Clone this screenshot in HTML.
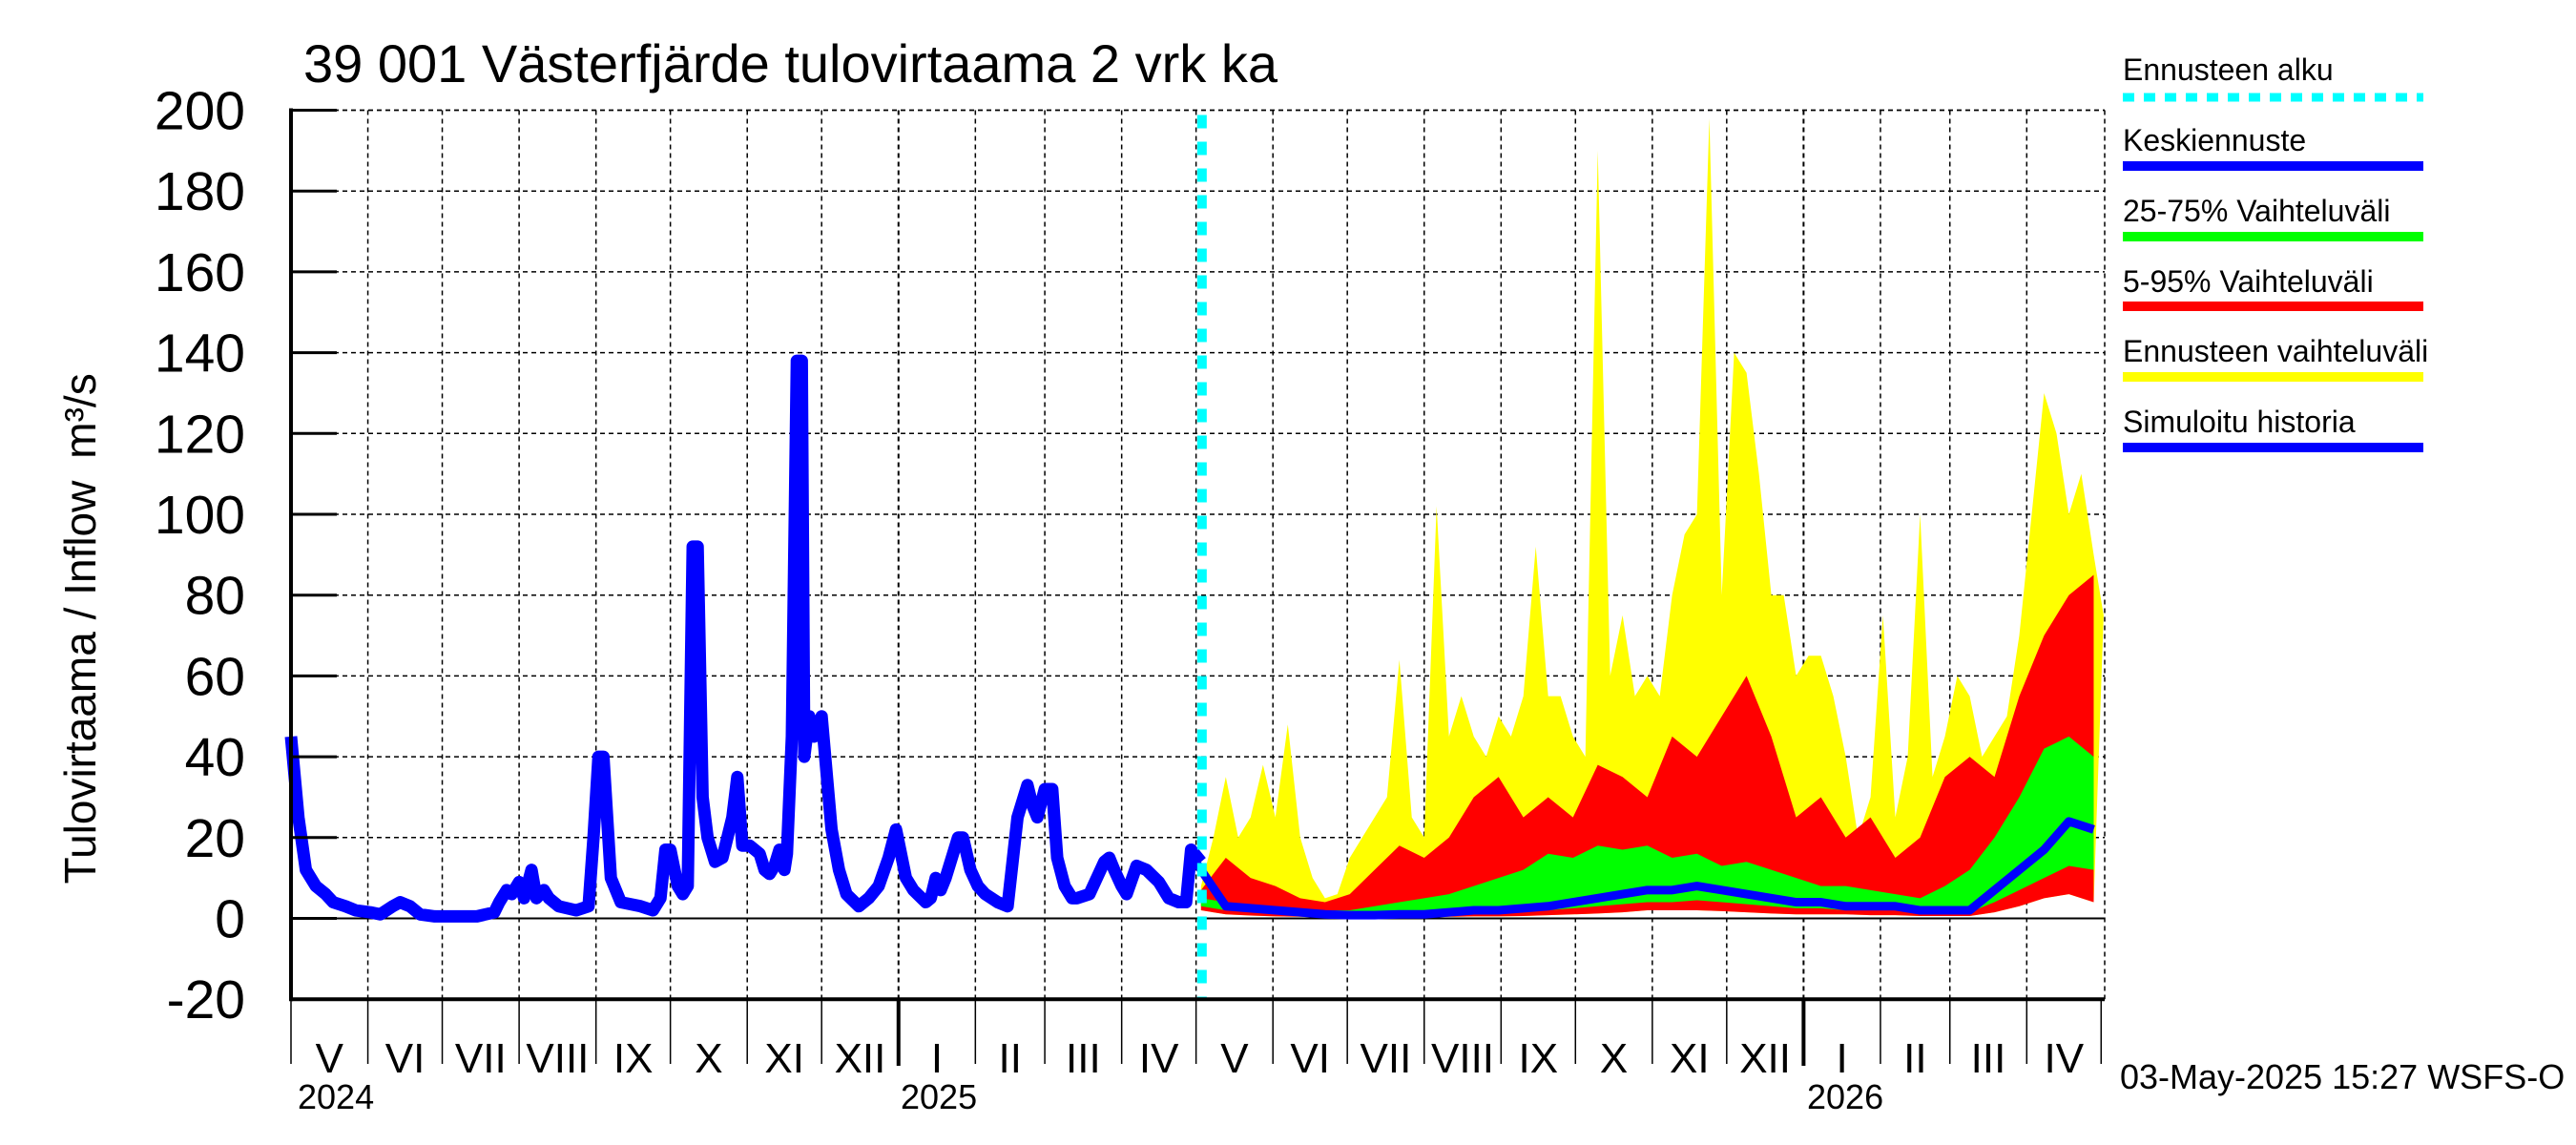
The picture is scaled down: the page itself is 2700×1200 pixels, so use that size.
<!DOCTYPE html>
<html><head><meta charset="utf-8"><style>
html,body{margin:0;padding:0;background:#fff}
svg{display:block;font-family:"Liberation Sans",sans-serif}
</style></head><body>
<svg id="chart" width="2700" height="1200" viewBox="0 0 2700 1200" xmlns="http://www.w3.org/2000/svg">
<text x="318" y="86" font-size="56">39 001 Västerfjärde tulovirtaama 2 vrk ka</text>
<g id="grid"></g>
<g id="bands"></g>
<g id="lines"></g>
<g id="axes"></g>
<g font-size="46">
<text transform="translate(100,715) rotate(-90)" text-anchor="middle">Tulovirtaama / Inflow</text>
<text transform="translate(100,436) rotate(-90)" text-anchor="middle">m³/s</text>
</g>
<g font-size="32">
 <g><text x="2225" y="84">Ennusteen alku</text><line x1="2225" y1="102" x2="2540" y2="102" stroke="#00ffff" stroke-width="9" stroke-dasharray="12,10"/></g>
 <g><text x="2225" y="158">Keskiennuste</text><line x1="2225" y1="174" x2="2540" y2="174" stroke="#0000ff" stroke-width="10"/></g>
 <g><text x="2225" y="232">25-75% Vaihteluväli</text><line x1="2225" y1="248" x2="2540" y2="248" stroke="#00ff00" stroke-width="10"/></g>
 <g><text x="2225" y="306">5-95% Vaihteluväli</text><line x1="2225" y1="321" x2="2540" y2="321" stroke="#ff0000" stroke-width="10"/></g>
 <g><text x="2225" y="379">Ennusteen vaihteluväli</text><line x1="2225" y1="395" x2="2540" y2="395" stroke="#ffff00" stroke-width="10"/></g>
 <g><text x="2225" y="453">Simuloitu historia</text><line x1="2225" y1="469" x2="2540" y2="469" stroke="#0000ff" stroke-width="10"/></g>
</g>
<text x="2222" y="1141" font-size="36">03-May-2025 15:27 WSFS-O</text>
</svg>
<script>
// ---- data ----
const yTicks = [-20,0,20,40,60,80,100,120,140,160,180,200];
const monthLabels = ["V","VI","VII","VIII","IX","X","XI","XII","I","II","III","IV","V","VI","VII","VIII","IX","X","XI","XII","I","II","III","IV"];
const monthDays = [31,30,31,31,30,31,30,31,31,28,31,30,31,30,31,31,30,31,30,31,31,28,31,30];
const yearLabels = ["2024","2025","2026"];
const forecastStartDay = 367;
// history: days since 1 May 2024 and values (m3/s)
const histDays = [0,3,6,10,14,17,22,26,32,36,41,44,48,52,58,68,75,82,84,87,89,92,94,97,99,102,104,108,115,120,122,124,126,129,133,141,146,149,151,153,156,158,160,162,164,166,168,171,174,178,180,182,185,189,191,193,195,197,199,200,202,204,206,207,209,211,214,218,221,224,229,233,237,241,244,248,251,256,258,260,262,264,269,271,274,277,280,285,289,293,297,299,301,304,307,309,312,315,317,322,328,330,332,335,337,341,345,350,354,358,361,363,367];
const histVals = [45,25,12,8,6,4,3,2,1.5,1,3,4,3,1,0.5,0.5,0.5,1.5,4,7,6,9,5,12,5,7,5,3,2,3,20,40,40,10,4,3,2,5,17,17,8,6,8,92,92,30,20,14,15,25,35,18,18,16,12,11,13,17,12,16,45,138,138,40,50,45,50,22,12,6,3,5,8,15,22,10,7,4,5,10,7,10,20,20,12,8,6,4,3,25,33,28,25,32,32,15,8,5,5,6,14,15,12,8,6,13,12,9,5,4,4,17,14];
// forecast (days since forecast start)
const yellowStep = 5;
const yellowUpper = [8,20,35,20,25,38,25,48,20,10,5,6,15,20,25,30,64,25,20,102,45,55,45,40,50,45,55,92,55,55,45,40,190,60,75,55,60,55,80,95,100,198,80,140,135,110,80,80,60,65,65,55,40,20,30,75,25,40,100,35,45,60,55,40,45,50,70,100,130,120,100,110,90,75];
const bandStep = 10;
const redUpper = [7,15,10,8,5,4,6,12,18,15,20,30,35,25,30,25,38,35,30,45,40,50,60,45,25,30,20,25,15,20,35,40,35,55,70,80,85];
const greenUpper = [5,4,3,3,2,2,2,3,4,5,6,8,10,12,16,15,18,17,18,15,16,13,14,12,10,8,8,7,6,5,8,12,20,30,42,45,40];
const meanFc = [12,3,2.5,2,1.5,1,0.8,0.8,1,1,1.5,2,2,2.5,3,4,5,6,7,7,8,7,6,5,4,4,3,3,3,2,2,2,7,12,17,24,22];
const greenLower = [3,2,1.5,1.2,1,0.8,0.5,0.5,0.6,0.7,1,1.2,1.3,1.5,2,2.5,3,3.5,4,4,4.5,4,3.5,3,2.5,2.5,2,2,2,1.5,1.5,1.5,4,7,10,13,12];
const redLower = [2,1,0.7,0.5,0.4,0.3,0.3,0.3,0.3,0.3,0.4,0.5,0.5,0.6,0.8,1,1.2,1.5,2,2,2,1.8,1.5,1.2,1,1,1,0.8,0.8,0.6,0.6,0.6,1.5,3,5,6,4];

// ---- scales ----
const X0 = 305, PXD = 2.599, Y0 = 962.5, PYU = 84.7/20, XR = 2206;
const xd = d => X0 + d*PXD;
const yv = v => Y0 - v*PYU;
const NS = "http://www.w3.org/2000/svg";
function mk(tag, parent, attrs){ const e=document.createElementNS(NS,tag); for(const k in attrs) e.setAttribute(k,attrs[k]); parent.appendChild(e); return e; }
const grid=document.getElementById('grid'), bands=document.getElementById('bands'), lines=document.getElementById('lines'), axes=document.getElementById('axes');

yTicks.forEach(t=>{
  if(t>-20 && t!==0){ const g=mk('line',grid,{x1:X0,x2:XR,y1:yv(t),y2:yv(t),stroke:'#000','stroke-width':1.5,'stroke-dasharray':'5,4'});
      }
  const tk=mk('line',axes,{x1:X0,x2:X0+48,y1:yv(t),y2:yv(t),stroke:'#000','stroke-width':3});
   
  const lb=mk('text',axes,{x:X0-48,y:yv(t)+20,'text-anchor':'end','font-size':57}); lb.textContent=t;
   
});
let d=0;
monthLabels.forEach((m,i)=>{
  const x0=xd(d), x1=xd(d+monthDays[i]);
  const isJan = m==="I";
  if(i>0){ const g=mk('line',grid,{x1:x0,x2:x0,y1:yv(200),y2:yv(-20),stroke:'#000','stroke-width':isJan?2:1.5,'stroke-dasharray':'5,4'});
      }
  const tk=mk('line',axes,{x1:x0,x2:x0,y1:yv(-20),y2:isJan?1117:1115,stroke:'#000','stroke-width':isJan?4:1.5});
   
  const lb=mk('text',axes,{x:(x0+x1)/2,y:1124,'text-anchor':'middle','font-size':44}); lb.textContent=m;
   
  d+=monthDays[i];
});
const endTick=mk('line',axes,{x1:xd(730),x2:xd(730),y1:yv(-20),y2:1115,stroke:'#000','stroke-width':1.5});
 
const rightGrid=mk('line',grid,{x1:XR,x2:XR,y1:yv(200),y2:yv(-20),stroke:'#000','stroke-width':1.5,'stroke-dasharray':'5,4'});
 
const topGrid=mk('line',grid,{x1:X0,x2:XR,y1:yv(200),y2:yv(200),stroke:'#000','stroke-width':1.5,'stroke-dasharray':'5,4'});
 
[[0,312],[245,944],[610,1894]].forEach((p,i)=>{
  const t=mk('text',axes,{x:p[1],y:1162,'font-size':36}); t.textContent=yearLabels[i];
   
});

function bandPath(upper, ustep, lower, lstep){
  const pts=[];
  upper.forEach((v,i)=>pts.push(xd(forecastStartDay+Math.min(i*ustep,364))+','+yv(v)));
  for(let i=lower.length-1;i>=0;i--) pts.push(xd(forecastStartDay+Math.min(i*lstep,364))+','+yv(lower[i]));
  return 'M'+pts.join('L')+'Z';
}
const by=mk('path',bands,{d:bandPath(yellowUpper,yellowStep,redLower,bandStep),fill:'#ffff00'});
 
const br=mk('path',bands,{d:bandPath(redUpper,bandStep,redLower,bandStep),fill:'#ff0000'});
 
const bg=mk('path',bands,{d:bandPath(greenUpper,bandStep,greenLower,bandStep),fill:'#00ff00'});
 

const zl=mk('line',grid,{x1:X0,x2:XR,y1:yv(0),y2:yv(0),stroke:'#000','stroke-width':2});
 

const hp=mk('polyline',lines,{points:histDays.map((dd,i)=>xd(dd)+','+yv(histVals[i])).join(' '),fill:'none',stroke:'#0000ff','stroke-width':13,'stroke-linejoin':'round'});
 
const mpts=[xd(forecastStartDay-2)+','+yv(histVals[histVals.length-1])];
meanFc.forEach((v,i)=>mpts.push(xd(forecastStartDay+Math.min(i*bandStep,364))+','+yv(v)));
const mp=mk('polyline',lines,{points:mpts.join(' '),fill:'none',stroke:'#0000ff','stroke-width':9,'stroke-linejoin':'round'});
 
const fs=mk('line',lines,{x1:xd(forecastStartDay)+1,x2:xd(forecastStartDay)+1,y1:yv(200)+5,y2:yv(-20),stroke:'#00ffff','stroke-width':10,'stroke-dasharray':'14,14'});
 

const la=mk('line',axes,{x1:X0,x2:X0,y1:yv(200)-2,y2:yv(-20)+2,stroke:'#000','stroke-width':4});
 
const ba=mk('line',axes,{x1:X0,x2:XR,y1:yv(-20),y2:yv(-20),stroke:'#000','stroke-width':4});
 
</script>
</body></html>
